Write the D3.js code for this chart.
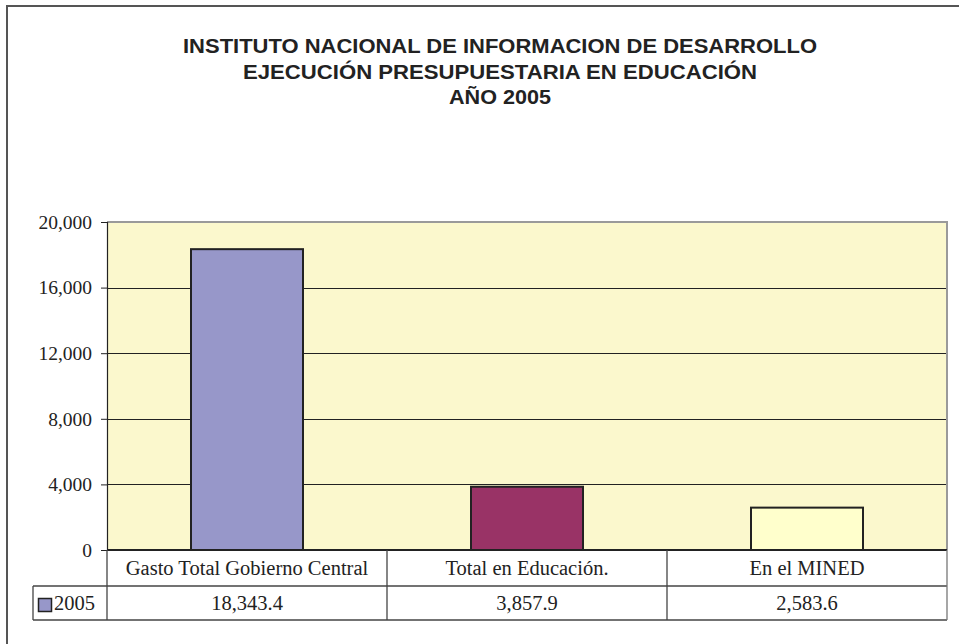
<!DOCTYPE html>
<html>
<head>
<meta charset="utf-8">
<script src="https://cdn.jsdelivr.net/npm/d3@7"></script>
<style>
  body { margin: 0; background: #fff; }
  svg { display: block; }
</style>
</head>
<body>
<div id="chart"></div>
<script>
// data
var titleLines = ["INSTITUTO NACIONAL DE INFORMACION DE DESARROLLO", "EJECUCIÓN PRESUPUESTARIA EN EDUCACIÓN", "AÑO 2005"];
var categories = ["Gasto Total Gobierno Central", "Total en Educación.", "En el MINED"];
var values2005 = [18343.4, 3857.9, 2583.6];
var valueLabels = ["18,343.4", "3,857.9", "2,583.6"];
var barColors = ["#9797C9", "#993366", "#FFFFCC"];
var yTicks = [0, 4000, 8000, 12000, 16000, 20000];
var seriesName = "2005";

var width = 959, height = 644;
var plotLeft = 107, plotRight = 947, plotTop = 222, plotBottom = 550;
var row1 = 586, row2 = 620, legendLeft = 33;

var svg = d3.select('#chart').append('svg')
  .attr('width', width).attr('height', height);

// outer chart border (right/bottom are off the picture)
svg.append('rect')
  .attr('x', 7).attr('y', 6)
  .attr('width', 1000).attr('height', 700)
  .attr('fill', 'none').attr('stroke', '#555').attr('stroke-width', 2);

// title
var titleWidths = [634, 514, 102];
svg.selectAll('text.title')
  .data(titleLines)
  .enter().append('text')
  .attr('class', 'title')
  .attr('x', 500)
  .attr('y', function(d, i) { return 53 + i * 25.5; })
  .attr('text-anchor', 'middle')
  .attr('font-family', 'Liberation Sans, Arial, sans-serif')
  .attr('font-weight', 'bold')
  .attr('font-size', 19.5)
  .attr('fill', '#222')
  .attr('textLength', function(d, i) { return titleWidths[i]; })
  .attr('lengthAdjust', 'spacingAndGlyphs')
  .text(function(d) { return d; });

var x = d3.scaleBand()
  .domain(categories)
  .range([plotLeft, plotRight])
  .paddingInner(0.6)
  .paddingOuter(0.3);

var col = d3.scaleBand()
  .domain(categories)
  .range([plotLeft, plotRight]);

var y = d3.scaleLinear()
  .domain([0, 20000])
  .range([plotBottom, plotTop]);

// plot area
svg.append('rect')
  .attr('x', plotLeft).attr('y', plotTop)
  .attr('width', plotRight - plotLeft).attr('height', plotBottom - plotTop)
  .attr('fill', '#FBF8CD');

// gridlines
svg.selectAll('line.grid')
  .data(yTicks.filter(function(t) { return t > 0 && t < 20000; }))
  .enter().append('line')
  .attr('class', 'grid')
  .attr('x1', plotLeft).attr('x2', plotRight)
  .attr('y1', function(d) { return Math.round(y(d)) + 0.5; })
  .attr('y2', function(d) { return Math.round(y(d)) + 0.5; })
  .attr('stroke', '#222').attr('stroke-width', 1);

// top and right border of plot area
svg.append('path')
  .attr('d', 'M' + plotLeft + ',' + plotTop + 'H' + plotRight + 'V' + plotBottom)
  .attr('fill', 'none').attr('stroke', '#9a9a9a').attr('stroke-width', 2);

// bars
svg.selectAll('rect.bar')
  .data(values2005)
  .enter().append('rect')
  .attr('class', 'bar')
  .attr('x', function(d, i) { return x(categories[i]); })
  .attr('y', function(d) { return y(d); })
  .attr('width', x.bandwidth())
  .attr('height', function(d) { return plotBottom - y(d); })
  .attr('fill', function(d, i) { return barColors[i]; })
  .attr('stroke', '#222').attr('stroke-width', 2);

// y axis
var yAxis = svg.append('g')
  .attr('transform', 'translate(' + plotLeft + ',0)')
  .call(d3.axisLeft(y).tickValues(yTicks).tickFormat(d3.format(',')).tickSize(6).tickPadding(9));
yAxis.select('.domain').attr('stroke', '#222').attr('stroke-width', 1.2);
yAxis.selectAll('.tick line').attr('stroke', '#222');
yAxis.selectAll('.tick text')
  .attr('font-family', 'Liberation Serif, Times New Roman, serif')
  .attr('font-size', 19.5)
  .attr('fill', '#222');

// data table
var tbl = svg.append('g').attr('fill', 'none').attr('stroke', '#444').attr('stroke-width', 1.3);
tbl.append('line').attr('x1', plotLeft).attr('x2', plotRight).attr('y1', plotBottom).attr('y2', plotBottom).attr('stroke', '#222').attr('stroke-width', 2);
tbl.append('line').attr('x1', legendLeft).attr('x2', plotRight).attr('y1', row1).attr('y2', row1);
tbl.append('line').attr('x1', legendLeft).attr('x2', plotRight).attr('y1', row2).attr('y2', row2);
tbl.append('line').attr('x1', legendLeft).attr('x2', legendLeft).attr('y1', row1).attr('y2', row2);
tbl.selectAll('line.sep')
  .data(categories)
  .enter().append('line')
  .attr('class', 'sep')
  .attr('x1', function(d) { return col(d); })
  .attr('x2', function(d) { return col(d); })
  .attr('y1', plotBottom).attr('y2', row2);
tbl.append('line').attr('x1', plotRight).attr('x2', plotRight).attr('y1', plotBottom).attr('y2', row2).attr('stroke', '#777');

var serif = 'Liberation Serif, Times New Roman, serif';
svg.selectAll('text.cat')
  .data(categories)
  .enter().append('text')
  .attr('class', 'cat')
  .attr('x', function(d) { return col(d) + col.bandwidth() / 2; })
  .attr('y', (plotBottom + row1) / 2 + 6.5)
  .attr('text-anchor', 'middle')
  .attr('font-family', serif).attr('font-size', 20.5).attr('fill', '#222')
  .text(function(d) { return d; });

svg.selectAll('text.val')
  .data(valueLabels)
  .enter().append('text')
  .attr('class', 'val')
  .attr('x', function(d, i) { return col(categories[i]) + col.bandwidth() / 2; })
  .attr('y', (row1 + row2) / 2 + 6.5)
  .attr('text-anchor', 'middle')
  .attr('font-family', serif).attr('font-size', 20.5).attr('fill', '#222')
  .text(function(d) { return d; });

// legend key
svg.append('rect')
  .attr('x', 38.5).attr('y', 598.5).attr('width', 13).attr('height', 13)
  .attr('fill', barColors[0]).attr('stroke', '#222').attr('stroke-width', 1.5);
svg.append('text')
  .attr('x', 54).attr('y', (row1 + row2) / 2 + 6.5)
  .attr('font-family', serif).attr('font-size', 20.5).attr('fill', '#222')
  .text(seriesName);
</script>
</body>
</html>
